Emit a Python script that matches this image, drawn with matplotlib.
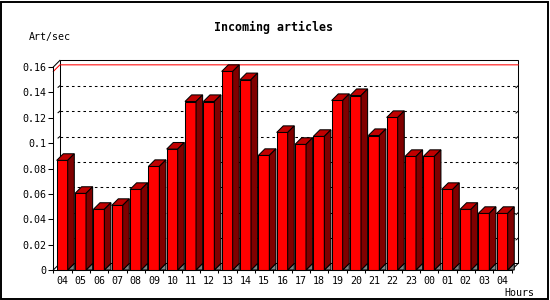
import matplotlib
matplotlib.use("Agg")
import matplotlib.pyplot as plt
from matplotlib.patches import Polygon, Rectangle
import numpy as np

hours = ["04", "05", "06", "07", "08", "09", "10", "11", "12", "13", "14", "15", "16",
         "17", "18", "19", "20", "21", "22", "23", "00", "01", "02", "03", "04"]
values = [0.0864, 0.0604, 0.0478, 0.0509, 0.0635, 0.0816, 0.0953, 0.1328, 0.1328,
          0.1565, 0.1500, 0.0903, 0.1084, 0.0990, 0.1053, 0.1336, 0.1375, 0.1060,
          0.1202, 0.0895, 0.0895, 0.0635, 0.0478, 0.0446, 0.0446]
yticks = [0, 0.02, 0.04, 0.06, 0.08, 0.10, 0.12, 0.14, 0.16]
ytick_labels = ["0", "0.02", "0.04", "0.06", "0.08", "0.1", "0.12", "0.14", "0.16"]
title = "Incoming articles"
ylabel = "Art/sec"
xlabel = "Hours"

W, H = 550, 300
fig = plt.figure(figsize=(W / 100, H / 100), dpi=100)
fig.patch.set_facecolor("white")

# front plane of the axes, in pixels
left_px, right_px = 53.3, 511.6
bottom_px, top_px = 270.0, 67.0
ax = fig.add_axes([left_px / W, 1 - bottom_px / H, (right_px - left_px) / W, (bottom_px - top_px) / H])
n = len(values)
ymax = 0.16
ax.set_xlim(0, n)
ax.set_ylim(0, ymax)
ax.set_facecolor("none")

px_x = (right_px - left_px) / n
px_y = (bottom_px - top_px) / ymax
dxu = 6.6 / px_x
dyu = 6.6 / px_y

lw = 0.75
mono = "DejaVu Sans Mono"

# back frame
back = Rectangle((dxu, dyu), n, ymax, facecolor="none", edgecolor="black", lw=lw,
                 clip_on=False, zorder=1)
ax.add_patch(back)
ax.plot([0, dxu], [0, dyu], color="black", lw=lw, clip_on=False, zorder=1)
ax.plot([0, dxu], [ymax, ymax + dyu], color="black", lw=lw, clip_on=False, zorder=1)
ax.plot([n, n + dxu], [0, dyu], color="black", lw=lw, clip_on=False, zorder=1)
# grid lines in back plane
for t in yticks[1:-1]:
    ax.plot([dxu, n + dxu], [t + dyu, t + dyu], color="black", lw=lw,
            linestyle=(0, (2.5, 3)), clip_on=False, zorder=1)
    ax.plot([dxu - 0.1, dxu], [t + dyu - 0.0012, t + dyu], color="black", lw=lw,
            clip_on=False, zorder=1)
    ax.plot([n + dxu - 0.12, n + dxu], [t + dyu - 0.0015, t + dyu], color="black", lw=lw,
            clip_on=False, zorder=1)
# max line
vmax = max(values)
ax.plot([0, dxu, n + dxu], [vmax, vmax + dyu, vmax + dyu], color="red", lw=lw,
        clip_on=False, zorder=1.5)

front_c = "#ff0000"
top_c = "#c00000"
side_c = "#800000"
bw = 0.6
off = 0.185
x = np.arange(n)
ax.bar(x + off, values, width=bw, align="edge", color=front_c, edgecolor="black",
       lw=lw, zorder=3, clip_on=False)
for i, v in enumerate(values):
    xl = i + off
    xr = xl + bw
    ax.add_patch(Polygon([(xr, 0), (xr + dxu, dyu), (xr + dxu, 0)], closed=True,
                         facecolor="#808080", edgecolor="black", lw=lw, zorder=2.5,
                         clip_on=False))
    ax.add_patch(Polygon([(xl, v), (xl + dxu, v + dyu), (xr + dxu, v + dyu), (xr, v)],
                         closed=True, facecolor=top_c, edgecolor="black", lw=lw,
                         zorder=3, clip_on=False))
    ax.add_patch(Polygon([(xr, 0), (xr + dxu, dyu), (xr + dxu, v + dyu), (xr, v)],
                         closed=True, facecolor=side_c, edgecolor="black", lw=lw,
                         zorder=3, clip_on=False))

for s in ["top", "right"]:
    ax.spines[s].set_visible(False)
for s in ["left", "bottom"]:
    ax.spines[s].set_linewidth(lw)
    ax.spines[s].set_zorder(4)

ax.set_yticks(yticks, ytick_labels)
ax.set_xticks(x + 0.5, hours)
ax.set_xticks(np.arange(n + 1), minor=True)
ax.tick_params(axis="y", length=3.5, width=lw, pad=1.5, labelsize=7.2, labelfontfamily=mono)
ax.tick_params(axis="x", which="major", length=0, pad=4, labelsize=7.2, labelfontfamily=mono)
ax.tick_params(axis="x", which="minor", length=2.5, width=lw)

fig.text(274 / W, 1 - 27 / H, title, ha="center", va="center", fontsize=8.4,
         fontweight="bold", family=mono)
fig.text(29 / W, 1 - 37 / H, ylabel, ha="left", va="center", fontsize=7.2, family=mono)
fig.text(504 / W, 1 - 292.5 / H, xlabel, ha="left", va="center", fontsize=7.2, family=mono)

fig.add_artist(Rectangle((0.8 / W, 1.5 / H), 547 / W, 297 / H, transform=fig.transFigure,
                         facecolor="none", edgecolor="black", lw=1.4))

fig.savefig("out.png", dpi=100)
